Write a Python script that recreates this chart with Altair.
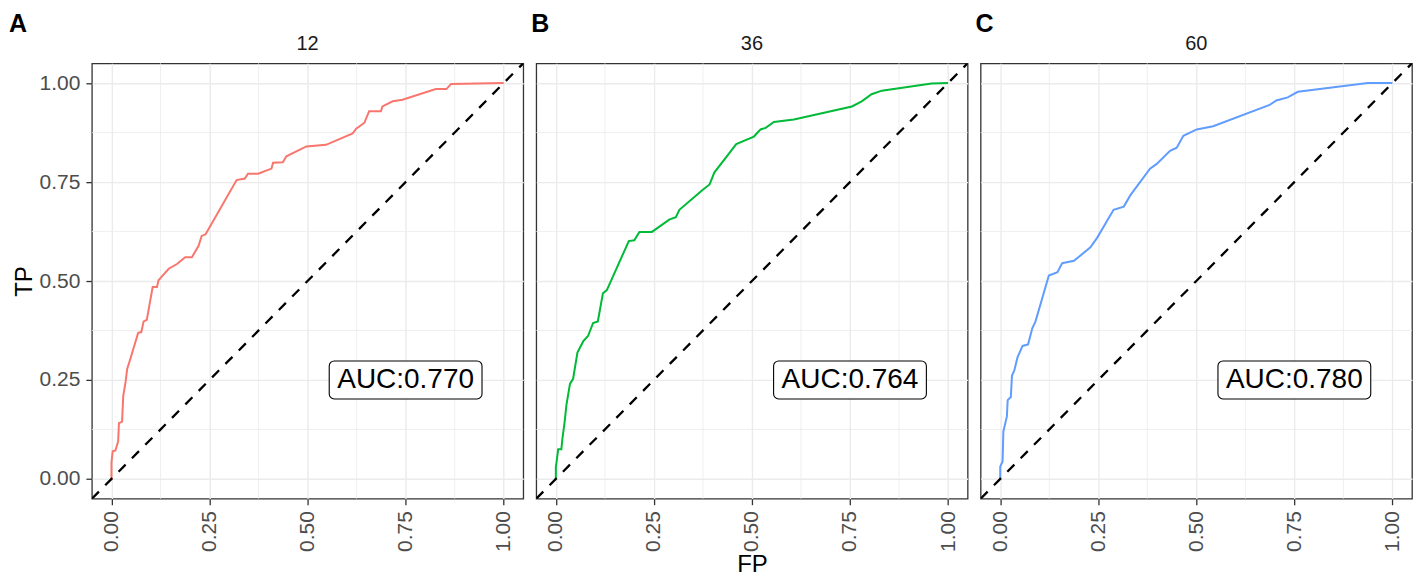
import altair as alt
import pandas as pd

# ---- data ----
fp_12 = [0, 0, 0.003, 0.01, 0.017, 0.019, 0.027, 0.03, 0.036, 0.04, 0.048, 0.068, 0.076, 0.082, 0.09,
         0.105, 0.116, 0.12, 0.127, 0.146, 0.167, 0.188, 0.205, 0.222, 0.23, 0.24, 0.319, 0.34, 0.348,
         0.374, 0.408, 0.412, 0.437, 0.446, 0.497, 0.547, 0.615, 0.624, 0.645, 0.657, 0.687, 0.691,
         0.717, 0.742, 0.827, 0.854, 0.866, 1.0]
tp_12 = [0, 0.041, 0.07, 0.072, 0.095, 0.141, 0.145, 0.21, 0.245, 0.278, 0.303, 0.369, 0.371, 0.398, 0.402,
         0.485, 0.485, 0.502, 0.51, 0.531, 0.543, 0.56, 0.56, 0.589, 0.614, 0.618, 0.755, 0.759, 0.771,
         0.771, 0.784, 0.799, 0.80, 0.815, 0.84, 0.844, 0.873, 0.885, 0.9, 0.929, 0.929, 0.941,
         0.954, 0.958, 0.985, 0.985, 0.998, 1.0]

fp_36 = [0, 0, 0.006, 0.014, 0.017, 0.022, 0.027, 0.036, 0.044, 0.055, 0.07, 0.082, 0.095, 0.107, 0.12,
         0.13, 0.186, 0.2, 0.213, 0.245, 0.289, 0.306, 0.315, 0.374, 0.392, 0.404, 0.46, 0.505, 0.522,
         0.535, 0.556, 0.607, 0.755, 0.78, 0.805, 0.831, 0.958, 1.0]
tp_36 = [0, 0.029, 0.075, 0.075, 0.104, 0.141, 0.187, 0.24, 0.253, 0.319, 0.348, 0.361, 0.394, 0.398, 0.469,
         0.477, 0.601, 0.603, 0.624, 0.624, 0.655, 0.661, 0.68, 0.73, 0.744, 0.774, 0.846, 0.865, 0.883,
         0.887, 0.902, 0.908, 0.941, 0.954, 0.972, 0.981, 0.999, 1.0]

fp_60 = [0, 0, 0.006, 0.008, 0.017, 0.019, 0.027, 0.03, 0.036, 0.044, 0.057, 0.071, 0.082, 0.09, 0.124,
         0.146, 0.158, 0.188, 0.23, 0.247, 0.289, 0.315, 0.332, 0.382, 0.399, 0.433, 0.45, 0.467, 0.501,
         0.543, 0.687, 0.704, 0.733, 0.759, 0.937, 1.0]
tp_60 = [0, 0.031, 0.044, 0.12, 0.158, 0.199, 0.207, 0.261, 0.274, 0.307, 0.336, 0.34, 0.381, 0.398, 0.514,
         0.522, 0.545, 0.551, 0.585, 0.609, 0.68, 0.688, 0.717, 0.784, 0.796, 0.829, 0.837, 0.867, 0.883,
         0.891, 0.945, 0.956, 0.964, 0.978, 1.0, 1.0]

panel_labels = ["12", "36", "60"]
panel_letters = ["A", "B", "C"]
auc_texts = ["AUC:0.770", "AUC:0.764", "AUC:0.780"]
auc_pos = [0.75, 0.25]
colors = ["#F8766D", "#00BA38", "#619CFF"]
major_breaks = [0, 0.25, 0.5, 0.75, 1.0]
minor_breaks = [0.125, 0.375, 0.625, 0.875]
diag = [-0.05, 1.05]

W, H = 432, 436
FONT = "Liberation Sans"


def panel(fp, tp, color, label, letter, auc, show_y, show_xtitle):
    df = pd.DataFrame({"FP": fp, "TP": tp, "i": list(range(len(fp)))})
    xs = alt.Scale(domain=[-0.05, 1.05], nice=False, zero=False)
    ys = alt.Scale(domain=[-0.05, 1.05], nice=False, zero=False)
    xaxis = alt.Axis(values=major_breaks, format=".2f", labelAngle=270, grid=True,
                     title="FP" if show_xtitle else None, labelPadding=6, titlePadding=1)
    if show_y:
        yaxis = alt.Axis(values=major_breaks, format=".2f", grid=True, title="TP",
                         labelPadding=6, titlePadding=3)
    else:
        yaxis = alt.Axis(values=major_breaks, grid=True, labels=False, ticks=False, title=None)

    minor_df = pd.DataFrame({"v": minor_breaks})
    vminor = alt.Chart(minor_df).mark_rule(color="#ebebeb", strokeWidth=0.8).encode(
        x=alt.X("v:Q", scale=xs, axis=xaxis))
    hminor = alt.Chart(minor_df).mark_rule(color="#ebebeb", strokeWidth=0.8).encode(
        y=alt.Y("v:Q", scale=ys, axis=yaxis))

    line = alt.Chart(df).mark_line(color=color, strokeWidth=2, clip=True).encode(
        x=alt.X("FP:Q", scale=xs, axis=xaxis),
        y=alt.Y("TP:Q", scale=ys, axis=yaxis),
        order=alt.Order("i:Q"),
    )
    ddf = pd.DataFrame({"FP": diag, "TP": diag})
    dline = alt.Chart(ddf).mark_line(color="black", strokeWidth=2.3, strokeDash=[10, 9],
                                     clip=True).encode(
        x=alt.X("FP:Q", scale=xs, axis=xaxis),
        y=alt.Y("TP:Q", scale=ys, axis=yaxis),
    )
    adf = pd.DataFrame({"FP": [auc_pos[0]], "TP": [auc_pos[1]], "t": [auc]})
    box = alt.Chart(adf).mark_rect(width=153, height=38, cornerRadius=5, fill="white",
                                   stroke="black", strokeWidth=1.1).encode(
        x=alt.X("FP:Q", scale=xs, axis=xaxis),
        y=alt.Y("TP:Q", scale=ys, axis=yaxis),
    )
    txt = alt.Chart(adf).mark_text(font=FONT, fontSize=28, color="black", align="center",
                                   baseline="middle").encode(
        x=alt.X("FP:Q", scale=xs, axis=xaxis),
        y=alt.Y("TP:Q", scale=ys, axis=yaxis),
        text="t:N",
    )
    ldf = pd.DataFrame({"t": [label]})
    strip = alt.Chart(ldf).mark_text(font=FONT, fontSize=20, color="#1a1a1a", align="center",
                                     baseline="alphabetic").encode(
        x=alt.value(W / 2), y=alt.value(-13), text="t:N")
    lt = pd.DataFrame({"t": [letter]})
    letter_mark = alt.Chart(lt).mark_text(font=FONT, fontSize=25, fontWeight="bold", color="black",
                                          align="left", baseline="top").encode(
        x=alt.value(-83 if show_y else -5), y=alt.value(-51), text="t:N")

    return alt.layer(vminor, hminor, line, dline, box, txt, strip, letter_mark).properties(
        width=W, height=H)


pA = panel(fp_12, tp_12, colors[0], panel_labels[0], panel_letters[0], auc_texts[0], True, False)
pB = panel(fp_36, tp_36, colors[1], panel_labels[1], panel_letters[1], auc_texts[1], False, True)
pC = panel(fp_60, tp_60, colors[2], panel_labels[2], panel_letters[2], auc_texts[2], False, False)

chart = alt.hconcat(pA, pB, pC, spacing=13).properties(
    bounds="flush", padding={"left": 0, "top": 3, "right": 0, "bottom": 0}
).configure_view(
    stroke="#333333", strokeWidth=1.3
).configure_axis(
    labelFont=FONT, labelFontSize=21, labelColor="#4d4d4d",
    titleFont=FONT, titleFontSize=24, titleFontWeight="normal", titleColor="black",
    tickColor="#333333", tickSize=6, tickWidth=1.3, domain=False,
    gridColor="#ebebeb", gridWidth=1.4,
)

chart.save("out.html", embed_options={"renderer": "svg", "actions": False})
